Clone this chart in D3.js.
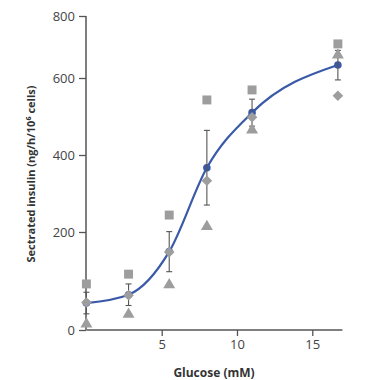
<!DOCTYPE html>
<html>
<head>
<meta charset="utf-8">
<script src="https://cdn.jsdelivr.net/npm/d3@7"></script>
<style>
  body { margin: 0; background: #fff; }
  text { font-family: "Open Sans", sans-serif; }
</style>
</head>
<body>
<div id="chart"></div>
<script>
// glucose concentrations (mM)
var glucose = [0, 2.8, 5.5, 8, 11, 16.7];
// individual replicates
var squares   = [94, 114, 244, 543, 569, 710];
var triangles = [12, 32, 92, 214, 465, 674];
var diamonds  = [56, 71, 159, 333, 498, 554];
// mean and error
var means  = [55, 72, 160, 367, 510, 642];
var errors = [22, 22, 41, 97, 35, 47];

var yTicks = [0, 200, 400, 600, 800];
var xTicks = [5, 10, 15];

var width = 371, height = 380;
var grey = "#9d9d9d", blue = "#3a5aa8", axisCol = "#555";

var svg = d3.select("#chart").append("svg")
  .attr("width", width)
  .attr("height", height);

var x = d3.scaleLinear().domain([0, 17]).range([86.4, 342.4]);
// the original axis is not evenly spaced, follow its tick positions
var y = d3.scaleLinear().domain(yTicks).range([330, 232, 155, 78, 16]);

// axes
var xAxis = svg.append("g")
  .attr("transform", "translate(0,330)")
  .call(d3.axisBottom(x).tickValues(xTicks).tickSize(6).tickPadding(4).tickSizeOuter(0));
var yAxis = svg.append("g")
  .attr("transform", "translate(86,0)")
  .call(d3.axisLeft(y).tickValues(yTicks).tickSize(7).tickPadding(4).tickSizeOuter(0));

[xAxis, yAxis].forEach(function(a) {
  a.select(".domain").attr("stroke", axisCol).attr("stroke-width", 1.5);
  a.selectAll(".tick line").attr("stroke", axisCol).attr("stroke-width", 1.3);
  a.selectAll(".tick text")
    .attr("fill", "#444")
    .style("font-size", "13px")
    .style("font-family", "Open Sans, sans-serif");
});
yAxis.select(".domain").attr("d", "M0,330V16");
xAxis.select(".domain").attr("d", "M86.4,0H342.4");

svg.append("text")
  .attr("transform", "translate(32,174) rotate(-90)")
  .attr("text-anchor", "middle")
  .attr("dominant-baseline", "middle")
  .attr("fill", "#333")
  .style("font-size", "11px")
  .style("font-weight", "bold")
  .text("Sectrated insulin (ng/h/10⁶ cells)");

svg.append("text")
  .attr("x", 214)
  .attr("y", 377)
  .attr("text-anchor", "middle")
  .attr("fill", "#333")
  .style("font-size", "12px")
  .style("font-weight", "bold")
  .text("Glucose (mM)");

var pts = glucose.map(function(g, i) { return {g: g, m: means[i], e: errors[i]}; });

// fitted curve
var line = d3.line()
  .x(function(d) { return x(d.g); })
  .y(function(d) { return y(d.m); })
  .curve(d3.curveMonotoneX);

svg.append("path")
  .datum(pts)
  .attr("d", line)
  .attr("fill", "none")
  .attr("stroke", blue)
  .attr("stroke-width", 2.2);

svg.selectAll(".mean")
  .data(pts)
  .enter()
    .append("circle")
      .attr("class", "mean")
      .attr("cx", function(d) { return x(d.g); })
      .attr("cy", function(d) { return y(d.m); })
      .attr("r", 3.8)
      .attr("fill", blue);

// error bars
var eb = svg.selectAll(".err")
  .data(pts)
  .enter()
    .append("g")
      .attr("class", "err")
      .attr("stroke", "#555")
      .attr("stroke-width", 1.1);
eb.append("line")
  .attr("x1", function(d) { return x(d.g); })
  .attr("x2", function(d) { return x(d.g); })
  .attr("y1", function(d) { return y(d.m + d.e); })
  .attr("y2", function(d) { return y(d.m - d.e); });
eb.append("line")
  .attr("x1", function(d) { return x(d.g) - 3; })
  .attr("x2", function(d) { return x(d.g) + 3; })
  .attr("y1", function(d) { return y(d.m + d.e); })
  .attr("y2", function(d) { return y(d.m + d.e); });
eb.append("line")
  .attr("x1", function(d) { return x(d.g) - 3; })
  .attr("x2", function(d) { return x(d.g) + 3; })
  .attr("y1", function(d) { return y(d.m - d.e); })
  .attr("y2", function(d) { return y(d.m - d.e); });

function drawMarkers(vals, type, size) {
  svg.selectAll(".m-" + type.name)
    .data(vals)
    .enter()
      .append("path")
        .attr("class", "m-" + type.name)
        .attr("transform", function(d, i) {
          return "translate(" + x(glucose[i]) + "," + y(d) + ")" + (type.rot ? " rotate(45)" : "");
        })
        .attr("d", d3.symbol().type(type.sym).size(size))
        .attr("fill", grey);
}

drawMarkers(squares, {name: "sq", sym: d3.symbolSquare}, 80);
drawMarkers(triangles, {name: "tri", sym: d3.symbolTriangle}, 62);
drawMarkers(diamonds, {name: "dia", sym: d3.symbolSquare, rot: true}, 56);
</script>
</body>
</html>
